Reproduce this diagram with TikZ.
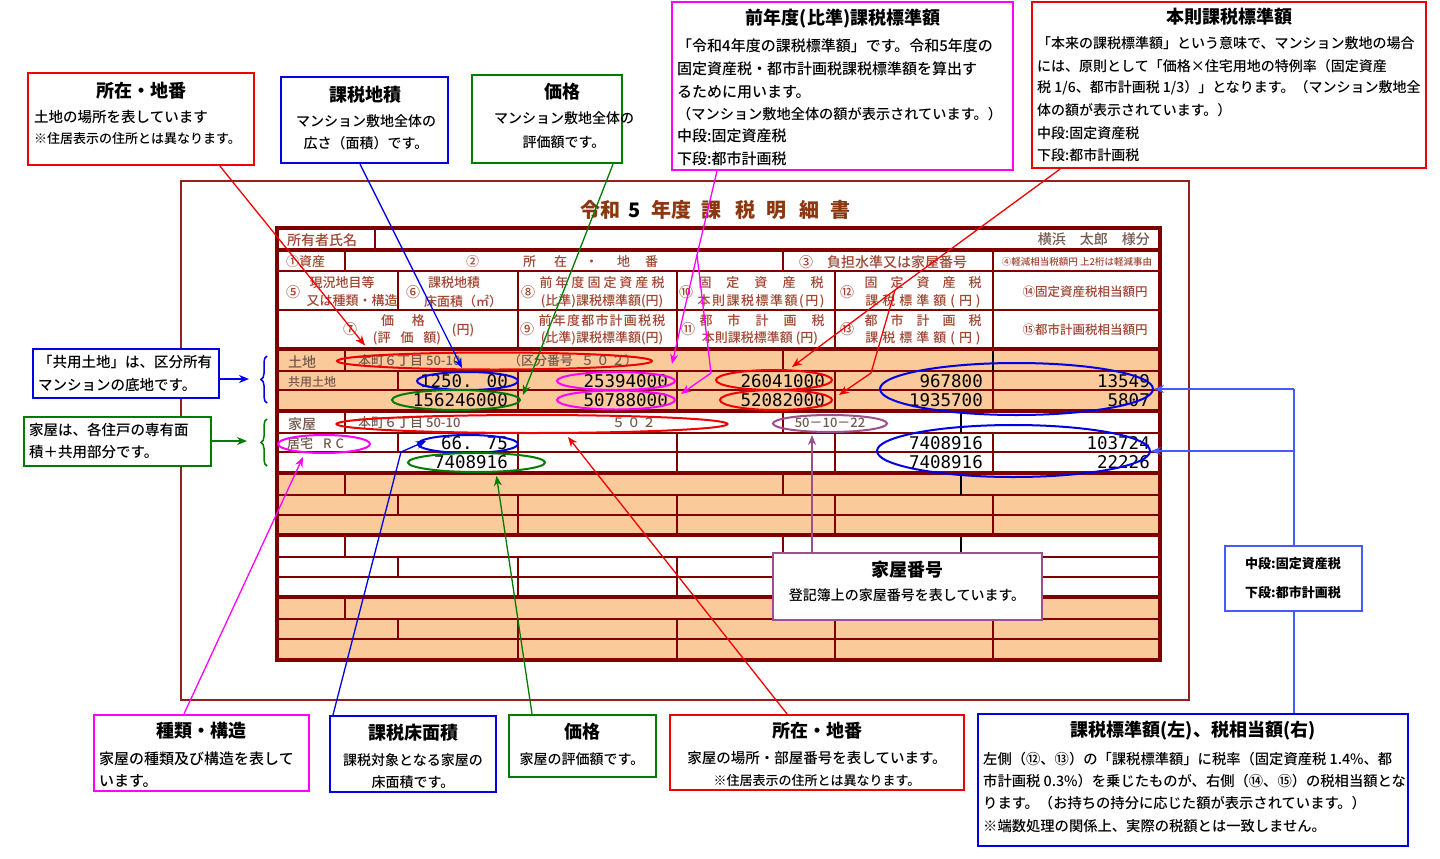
\documentclass[tikz,border=0pt]{standalone}
\usepackage{fontspec}
\setmainfont{Noto Sans CJK JP}[UprightFont={* Medium}]
\newfontfamily\numf{DejaVu Sans Mono}
\usetikzlibrary{shapes.geometric,arrows.meta,decorations.pathreplacing,calc}
\definecolor{mar}{RGB}{128,0,0}
\definecolor{frm}{RGB}{150,30,30}
\definecolor{org}{RGB}{251,202,155}
\definecolor{hdr}{RGB}{160,70,50}
\definecolor{lbl}{RGB}{115,90,80}
\definecolor{ttlc}{RGB}{140,55,15}
\definecolor{cred}{RGB}{240,0,0}
\definecolor{cblue}{RGB}{0,0,230}
\definecolor{cgreen}{RGB}{0,125,0}
\definecolor{cmag}{RGB}{255,0,255}
\definecolor{cpur}{RGB}{155,80,140}
\definecolor{lblue}{RGB}{70,90,255}
\makeatletter
\def\lsend{\lsend@}
\newcommand\lsp[2]{\begingroup\def\lsgap{#1}\lsloop#2\lsend\endgroup}
\def\lsloop#1{\ifx#1\lsend\unskip\else#1\hspace{\lsgap}\expandafter\lsloop\fi}
\makeatother
\tikzset{
 cb/.style={draw=#1, line width=2.3pt, fill=white, inner sep=0pt, rectangle},
 ttl/.style={font=\bfseries\fontsize{18}{20}\selectfont, inner sep=0pt},
 bd/.style={font=\fontsize{15}{17}\selectfont, inner sep=0pt},
 bdw/.style={bd, anchor=west},
 sm/.style={font=\fontsize{13}{15}\selectfont, inner sep=0pt},
 smw/.style={sm, anchor=west},
 hd/.style={font=\fontsize{13}{15}\selectfont, text=hdr, inner sep=0pt},
 hdc/.style={font=\fontsize{14}{15}\selectfont, text=hdr, inner sep=0pt},
 num/.style={font=\numf\fontsize{17.5}{20}\selectfont, inner sep=0pt, anchor=east},
 lab/.style={font=\fontsize{13}{15}\selectfont, text=lbl, inner sep=0pt, anchor=west},
 ov/.style={ellipse, draw=#1, line width=2pt, inner sep=0pt},
 con/.style={line width=1.3pt, -{Stealth[length=10pt,width=8pt]}},
 thinl/.style={mar, line width=1.2pt},
 thickl/.style={mar, line width=3.5pt},
 brc/.style={line width=1.5pt, decorate, decoration={brace, amplitude=6pt}},
}
\begin{document}
\begin{tikzpicture}[x=1pt,y=-1pt]
\useasboundingbox (0,0) rectangle (1440,859);
\fill[white] (0,0) rectangle (1440,859);
% outer frame
\draw[frm, line width=2pt] (181,181) rectangle (1189,700);
% title
\node[font=\bfseries\fontsize{20}{22}\selectfont, text=ttlc, inner sep=0pt, anchor=west] (title) at (580,210)
 {令和\hspace{8pt}{\color{black}5}\hspace{11pt}年度\hspace{10pt}課\hspace{14pt}税\hspace{11pt}明\hspace{13pt}細\hspace{11pt}書};
% table fills
\fill[org] (277,349) rectangle (1160,411);
\fill[org] (277,473) rectangle (1160,535);
\fill[org] (277,597) rectangle (1160,660);
% thin horizontal lines
\foreach \y in {271,310,371,390,433,452,495,515,557,577,619,639}
  \draw[thinl] (277,\y) -- (1160,\y);
% vertical lines
\draw[thinl] (375,228) -- (375,250);
\foreach \x in {345,783,993} \draw[thinl] (\x,250) -- (\x,271);
\foreach \ya/\yb in {349/371,411/433,473/495,535/557,597/619}
  \foreach \x in {345,783} \draw[thinl] (\x,\ya) -- (\x,\yb);
\foreach \ya/\yb in {271/310,371/390,433/452,495/515,557/577,619/639}
  \foreach \x in {398,518,677,835,993} \draw[thinl] (\x,\ya) -- (\x,\yb);
\foreach \ya/\yb in {310/349,390/411,452/473,515/535,577/597,639/660}
  \foreach \x in {518,677,835,993} \draw[thinl] (\x,\ya) -- (\x,\yb);
\draw[black, line width=2pt] (993,349) -- (993,371);
\foreach \ya/\yb in {411/433,473/495,535/557,597/619}
  \draw[black, line width=2pt] (961,\ya) -- (961,\yb);
% thick lines
\foreach \y in {250,349,411,473,535,597}
  \draw[thickl] (277,\y) -- (1160,\y);
\draw[mar, line width=4pt] (277,228) rectangle (1160,660);
% header texts
\node[font=\fontsize{14}{15}\selectfont, text=hdr, inner sep=0pt, anchor=west] (hown) at (287,240) {所有者氏名};
\node[font=\fontsize{14}{15}\selectfont, text=lbl, inner sep=0pt, anchor=east] (hname) at (1150,239) {横浜\hspace{14pt}太郎\hspace{14pt}様分};
\node[hd, anchor=west] (h1) at (286,262) {①資産};
\node[hd, anchor=west] (h2) at (466,262) {②\hspace{44pt}所\hspace{18pt}在\hspace{18pt}・\hspace{19pt}地\hspace{15pt}番};
\node[hd, font=\fontsize{14}{15}\selectfont, anchor=west] (h3) at (799,262) {③\hspace{14pt}負担水準又は家屋番号};
\node[hd, font=\fontsize{9.5}{11}\selectfont] (h4) at (1077,262) {④軽減相当税額円 上2桁は軽減事由};
\node[hdc] (h5n) at (293,292) {⑤};
\node[hd] (h5a) at (342,283) {現況地目等};
\node[hd] (h5b) at (352,301) {又は種類・構造};
\node[hdc] (h6n) at (413,292) {⑥};
\node[hd] (h6a) at (454,283) {課税地積};
\node[hd] (h6b) at (463,301) {床面積（㎡）};
\node[hdc] (h8n) at (528,292) {⑧};
\node[hd] (h8a) at (602,283) {\lsp{3pt}{前年度固定資産税}};
\node[hd] (h8b) at (602,301) {(比準)課税標準額(円)};
\node[hdc] (h10n) at (686,292) {⑩};
\node[hd] (h10a) at (761,283) {\lsp{15pt}{固定資産税}};
\node[hd] (h10b) at (761,301) {\lsp{1.5pt}{本則課税標準額(円)}};
\node[hdc] (h12n) at (847,292) {⑫};
\node[hd] (h12a) at (923,283) {\lsp{13pt}{固定資産税}};
\node[hd] (h12b) at (923,301) {\lsp{4pt}{課税標準額(円)}};
\node[hd, font=\fontsize{12.5}{14}\selectfont] (h14) at (1085,292) {⑭固定資産税相当額円};
\node[hdc] (h7n) at (350,329) {⑦};
\node[hd] (h7a) at (403,321) {価\hspace{18pt}格};
\node[hd] (h7b) at (407,338) {(評\hspace{10pt}価\hspace{10pt}額)};
\node[hd] (h7c) at (463,330) {(円)};
\node[hdc] (h9n) at (527,329) {⑨};
\node[hd] (h9a) at (602,321) {\lsp{1.2pt}{前年度都市計画税税}};
\node[hd] (h9b) at (602,338) {(比準)課税標準額(円)};
\node[hdc] (h11n) at (688,329) {⑪};
\node[hd] (h11a) at (762,321) {\lsp{15pt}{都市計画税}};
\node[hd] (h11b) at (760,338) {本則課税標準額 (円)};
\node[hdc] (h13n) at (847,329) {⑬};
\node[hd] (h13a) at (923,321) {\lsp{13pt}{都市計画税}};
\node[hd] (h13b) at (923,338) {\lsp{4pt}{課税標準額(円)}};
\node[hd, font=\fontsize{12.5}{14}\selectfont] (h15) at (1085,330) {⑮都市計画税相当額円};
% data rows
\node[lab, font=\fontsize{14}{15}\selectfont] (d1) at (288,362) {土地};
\node[lab] (d2) at (358,361) {本町６丁目 50-10};
\node[lab] (d3) at (508,361) {（区分番号\hspace{8pt}５\,０\,２）};
\node[lab, font=\fontsize{12}{14}\selectfont] (d4) at (288,382) {共用土地};
\node[num] (n1) at (508,381) {1250. 00};
\node[num] (n2) at (668,381) {25394000};
\node[num] (n3) at (825,381) {26041000};
\node[num] (n4) at (983,381) {967800};
\node[num] (n5) at (1150,381) {13549};
\node[num] (n6) at (508,400) {156246000};
\node[num] (n7) at (668,400) {50788000};
\node[num] (n8) at (825,400) {52082000};
\node[num] (n9) at (983,400) {1935700};
\node[num] (n10) at (1150,400) {5807};
\node[lab, font=\fontsize{14}{15}\selectfont] (d5) at (288,424) {家屋};
\node[lab] (d6) at (358,423) {本町６丁目 50-10};
\node[lab] (d7) at (612,423) {５\,０\,２};
\node[lab, anchor=center] (d8) at (830,423) {50－10－22};
\node[lab] (d9) at (287,444) {居宅\hspace{10pt}R\hspace{4pt}C};
\node[num] (n11) at (508,443) {66. 75};
\node[num] (n12) at (983,443) {7408916};
\node[num] (n13) at (1150,443) {103724};
\node[num] (n14) at (508,462) {7408916};
\node[num] (n15) at (983,462) {7408916};
\node[num] (n16) at (1150,462) {22226};
% ellipses
\node[ov=cred, minimum width=315pt, minimum height=17pt] (eaddrL) at (494.5,361) {};
\node[ov=cblue, minimum width=101pt, minimum height=18pt] (earea) at (467.5,381) {};
\node[ov=cgreen, minimum width=128pt, minimum height=20pt] (epriceL) at (456,400) {};
\node[ov=cmag, minimum width=118pt, minimum height=18pt] (em1) at (616,381) {};
\node[ov=cmag, minimum width=118pt, minimum height=19pt] (em2) at (616,400) {};
\node[ov=cred, minimum width=116pt, minimum height=20pt] (er1) at (774,380) {};
\node[ov=cred, minimum width=112pt, minimum height=20pt] (er2) at (776,400) {};
\node[ov=cblue, minimum width=273pt, minimum height=52pt] (ebigL) at (1016.5,389) {};
\node[ov=cred, minimum width=391pt, minimum height=18pt] (eaddrH) at (532,424) {};
\node[ov=cpur, minimum width=114pt, minimum height=17pt] (ehno) at (830,423.5) {};
\node[ov=cmag, minimum width=92pt, minimum height=18pt] (ekind) at (324,444) {};
\node[ov=cblue, minimum width=100pt, minimum height=18pt] (efarea) at (468,444) {};
\node[ov=cgreen, minimum width=137pt, minimum height=19pt] (epriceH) at (476.5,462.5) {};
\node[ov=cblue, minimum width=273pt, minimum height=52pt] (ebigH) at (1013.5,451) {};
% boxes
\node[cb=cred, minimum width=226pt, minimum height=92pt] (b1) at (141,119) {};
\node[cb=cblue, minimum width=167pt, minimum height=86pt] (b2) at (364.5,120) {};
\node[cb=cgreen, minimum width=150pt, minimum height=88pt] (b3) at (547,119) {};
\node[cb=cmag, minimum width=341pt, minimum height=168pt] (b4) at (842.5,86) {};
\node[cb=cred, minimum width=394pt, minimum height=166pt] (b5) at (1229,85) {};
\node[cb=cblue, minimum width=186pt, minimum height=49pt] (b6) at (126,373.5) {};
\node[cb=cgreen, minimum width=187pt, minimum height=49pt] (b7) at (117.5,441.5) {};
\node[cb=cmag, minimum width=215pt, minimum height=76pt] (b8) at (201.5,753) {};
\node[cb=cblue, minimum width=166pt, minimum height=76pt] (b9) at (413,754) {};
\node[cb=cgreen, minimum width=147pt, minimum height=62pt] (b10) at (582.5,746) {};
\node[cb=cred, minimum width=294pt, minimum height=75pt] (b11) at (817,752.5) {};
\node[cb=cblue, minimum width=430pt, minimum height=132pt] (b12) at (1193,780) {};
% connectors
\draw[cred, con] ([xshift=79pt]b1.south) -- ($(eaddrL.north)+(-129.5,-6)$);
\draw[cblue, con] ([xshift=-4.5pt]b2.south) -- ($(earea.north)+(-5.5,-3)$);
\draw[cgreen, con] ([xshift=66pt]b3.south) -- ($(epriceL.east)+(2,-5)$);
\coordinate (mbr) at (697,255);
\draw[cmag, con] ([xshift=-125.5pt]b4.south) -- (mbr) -- ($(em1.north)+(56,-7)$);
\draw[cmag, con] (mbr) -- (711,373) -- ($(em2.east)+(5,-6)$);
\coordinate (rbr) at (895,290);
\draw[cred, con] ([xshift=-169pt]b5.south) -- (rbr) -- ($(er1.north)+(18,-2)$);
\draw[cred, con] (rbr) -- (871,373) -- ($(er2.east)+(6,-5)$);
\coordinate (br1) at (249,379);
\coordinate (br2) at (247,441);
\draw[cblue, con] (b6.east |- br1) -- (br1);
\draw[cgreen, con] (b7.east |- br2) -- (br2);
\draw[cblue, brc] (267,403) -- (267,356);
\draw[cgreen, brc] (267,466) -- (267,419);
\draw[cmag, con] ([xshift=-17.5pt]b8.north) -- ($(ekind.south)+(-21,3)$);
\draw[cblue, con] ([xshift=-80pt]b9.north) -- (401,452) -- ($(efarea.west)+(9,-3)$);
\draw[cgreen, con] ([xshift=-50.5pt]b10.north) -- ($(epriceH.south)+(20,3)$);
\draw[cred, con] ([xshift=-30pt]b11.north) -- ($(eaddrH.south)+(36,3)$);
\node[cb=lblue, line width=1.5pt, minimum width=137pt, minimum height=65pt] (b13) at (1293.5,578.5) {};
\node[cb=cpur, minimum width=269pt, minimum height=67pt] (b14) at (907.5,586.5) {};
\draw[cpur, con] ([xshift=-95.5pt]b14.north) -- ($(ehno.south)+(-18,2)$);
\draw[lblue, line width=2pt] (b13.north) -- (b13.north |- ebigL.east);
\draw[lblue, con, line width=2pt] (b13.north |- ebigL.east) -- (ebigL.east);
\draw[lblue, con, line width=2pt] (b13.north |- ebigH.east) -- (ebigH.east);
\draw[lblue, line width=2pt] (b13.south) -- (b13.south |- b12.north);
% box texts
\node[ttl] (t1) at (141,91) {所在・地番};
\node[bdw, font=\fontsize{14.5}{16}\selectfont] (t1a) at (34,117) {土地の場所を表しています};
\node[smw] (t1b) at (34,139) {※住居表示の住所とは異なります。};
\node[ttl] (t2) at (365,95) {課税地積};
\node[bd, font=\fontsize{14}{16}\selectfont] (t2a) at (366,121) {マンション敷地全体の};
\node[bd, font=\fontsize{14}{16}\selectfont] (t2b) at (366,143) {広さ（面積）です。};
\node[ttl] (t3) at (562,92) {価格};
\node[bd, font=\fontsize{14}{16}\selectfont] (t3a) at (564,118) {マンション敷地全体の};
\node[bd, font=\fontsize{14}{16}\selectfont] (t3b) at (564,142) {評価額です。};
\node[ttl] (t4) at (843,19) {前年度(比準)課税標準額};
\node[bdw] (t4a) at (677,46) {「令和4年度の課税標準額」です。令和5年度の};
\node[bdw] (t4b) at (677,69) {固定資産税・都市計画税課税標準額を算出す};
\node[bdw] (t4c) at (677,92) {るために用います。};
\node[bdw, font=\fontsize{14.2}{16}\selectfont] (t4d) at (677,114) {（マンション敷地全体の額が表示されています。）};
\node[bdw] (t4e) at (677,136) {中段:固定資産税};
\node[bdw] (t4f) at (677,159) {下段:都市計画税};
\node[ttl] (t5) at (1229,17) {本則課税標準額};
\node[bdw, font=\fontsize{14}{16}\selectfont] (t5a) at (1037,43) {「本来の課税標準額」という意味で、マンション敷地の場合};
\node[bdw, font=\fontsize{14}{16}\selectfont] (t5b) at (1037,66) {には、原則として「価格×住宅用地の特例率（固定資産};
\node[bdw, font=\fontsize{14}{16}\selectfont] (t5c) at (1037,88) {税 1/6、都市計画税 1/3）」となります。（マンション敷地全};
\node[bdw, font=\fontsize{14}{16}\selectfont] (t5d) at (1037,110) {体の額が表示されています。）};
\node[bdw, font=\fontsize{14}{16}\selectfont] (t5e) at (1037,133) {中段:固定資産税};
\node[bdw, font=\fontsize{14}{16}\selectfont] (t5f) at (1037,155) {下段:都市計画税};
\node[bdw, font=\fontsize{14.5}{16}\selectfont] (t6a) at (38,362) {「共用土地」は、区分所有};
\node[bdw, font=\fontsize{14.5}{16}\selectfont] (t6b) at (38,385) {マンションの底地です。};
\node[bdw, font=\fontsize{14.5}{16}\selectfont] (t7a) at (29,430) {家屋は、各住戸の専有面};
\node[bdw, font=\fontsize{14.5}{16}\selectfont] (t7b) at (29,452) {積＋共用部分です。};
\node[ttl] (t8) at (201,731) {種類・構造};
\node[bdw] (t8a) at (99,759) {家屋の種類及び構造を表して};
\node[bdw] (t8b) at (99,781) {います。};
\node[ttl] (t9) at (413,733) {課税床面積};
\node[bd, font=\fontsize{14}{16}\selectfont] (t9a) at (413,760) {課税対象となる家屋の};
\node[bd, font=\fontsize{14}{16}\selectfont] (t9b) at (413,782) {床面積です。};
\node[ttl] (t10) at (582,732) {価格};
\node[bd, font=\fontsize{14}{16}\selectfont] (t10a) at (582,759) {家屋の評価額です。};
\node[ttl] (t11) at (817,731) {所在・地番};
\node[bd, font=\fontsize{14.5}{16}\selectfont] (t11a) at (817,758) {家屋の場所・部屋番号を表しています。};
\node[sm] (t11b) at (817,781) {※住居表示の住所とは異なります。};
\node[ttl] (t12) at (1193,731) {課税標準額(左)、税相当額(右)};
\node[bdw, font=\fontsize{14.3}{16}\selectfont] (t12a) at (983,759) {左側（⑫、⑬）の「課税標準額」に税率（固定資産税 1.4\%、都};
\node[bdw, font=\fontsize{14.3}{16}\selectfont] (t12b) at (983,781) {市計画税 0.3\%）を乗じたものが、右側（⑭、⑮）の税相当額とな};
\node[bdw, font=\fontsize{14.3}{16}\selectfont] (t12c) at (983,803) {ります。（お持ちの持分に応じた額が表示されています。）};
\node[bdw, font=\fontsize{14.3}{16}\selectfont] (t12d) at (983,826) {※端数処理の関係上、実際の税額とは一致しません。};
\node[font=\bfseries\fontsize{13}{15}\selectfont, inner sep=0pt] (t13a) at (1293,564) {中段:固定資産税};
\node[font=\bfseries\fontsize{13}{15}\selectfont, inner sep=0pt] (t13b) at (1293,593) {下段:都市計画税};
\node[ttl] (t14) at (907,570) {家屋番号};
\node[bd, font=\fontsize{14}{16}\selectfont] (t14a) at (907,595) {登記簿上の家屋番号を表しています。};
\end{tikzpicture}
\end{document}
